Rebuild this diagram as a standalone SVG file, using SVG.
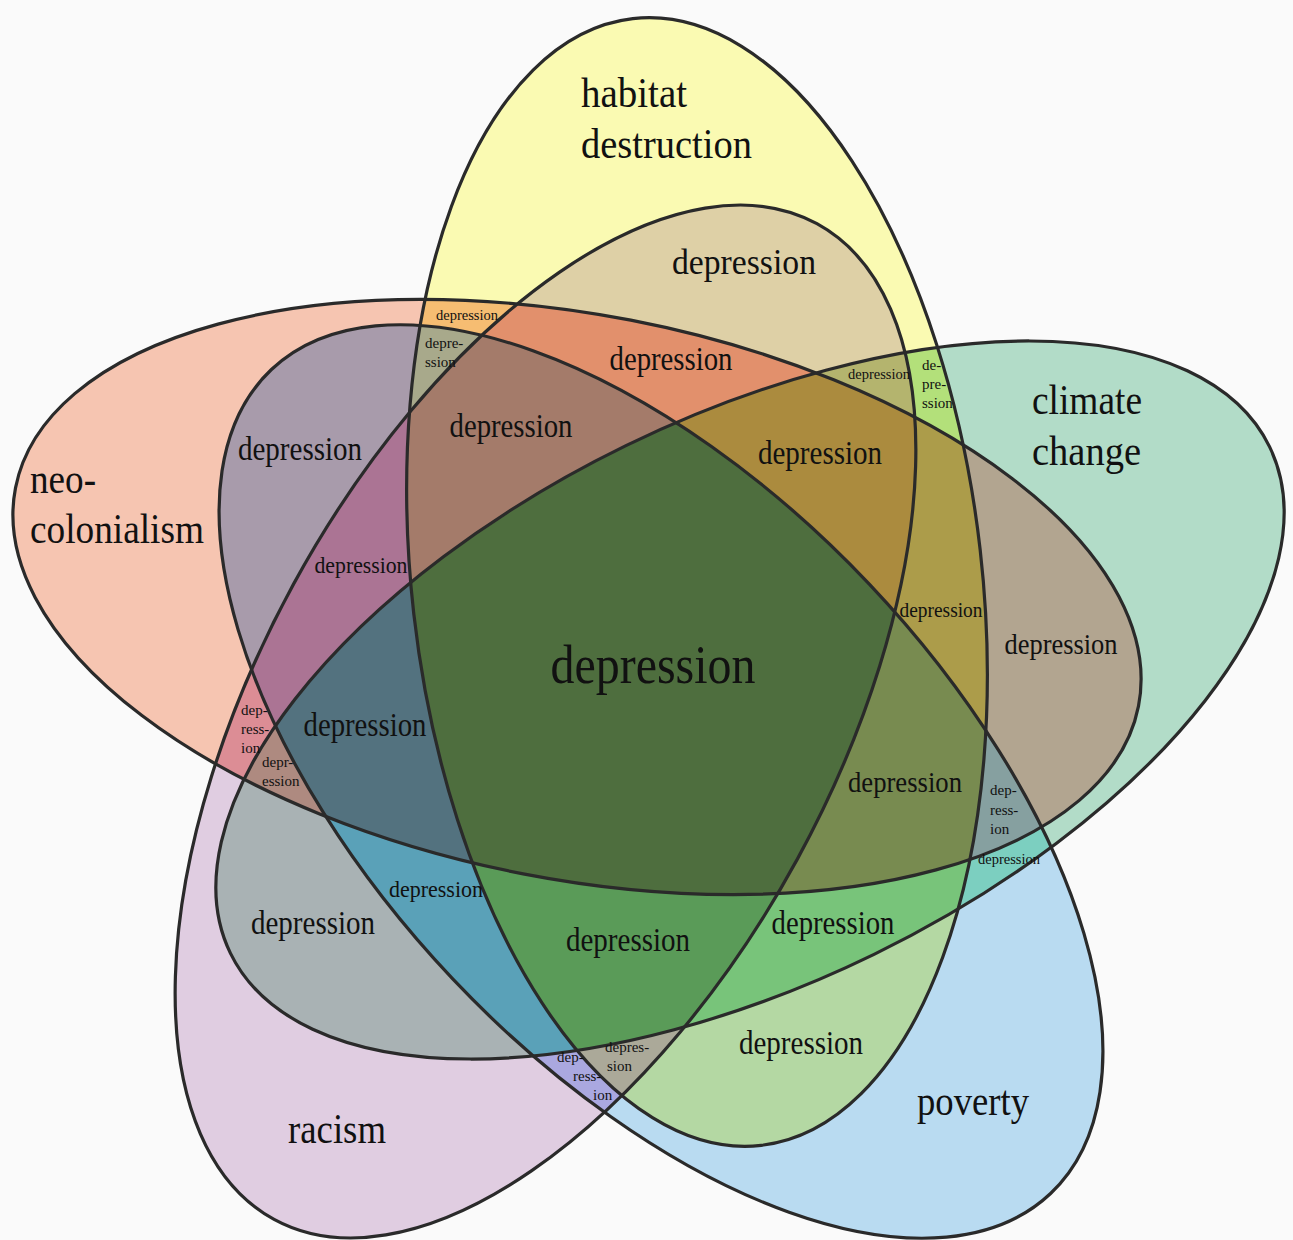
<svg xmlns="http://www.w3.org/2000/svg" xmlns:xlink="http://www.w3.org/1999/xlink" width="1293" height="1240" viewBox="0 0 1293 1240">
<style>
.lbl{font-family:"Liberation Serif","Times New Roman",serif;fill:#111}
.big{font-size:43px}
.mid{font-size:33px}
.sm{font-size:15px}
.edge{fill:none;stroke:#2a2a2a;stroke-width:3.2}
</style>
<defs>
<ellipse id="eN" cx="577" cy="597" rx="572" ry="282" transform="rotate(11 577 597)"/>
<ellipse id="eH" cx="697" cy="582" rx="285" ry="567" transform="rotate(-6.5 697 582)"/>
<ellipse id="eC" cx="750" cy="700" rx="578" ry="283" transform="rotate(-26 750 700)"/>
<ellipse id="eP" cx="661" cy="781.5" rx="567" ry="287" transform="rotate(46.6 661 781.5)"/>
<ellipse id="eR" cx="545.5" cy="721.5" rx="567" ry="287" transform="rotate(-61.4 545.5 721.5)"/>
<clipPath id="cN"><use href="#eN"/></clipPath>
<clipPath id="cH"><use href="#eH"/></clipPath>
<clipPath id="cC"><use href="#eC"/></clipPath>
<clipPath id="cP"><use href="#eP"/></clipPath>
<clipPath id="cR"><use href="#eR"/></clipPath>
</defs>
<rect width="1293" height="1240" fill="#fafafa"/>
<g id="regions">
<use href="#eN" fill="#f6c5b1"/>
<use href="#eH" fill="#fafab2"/>
<use href="#eC" fill="#b2dcc8"/>
<use href="#eP" fill="#b9dbf1"/>
<use href="#eR" fill="#e0cde1"/>
<g clip-path="url(#cH)"><use href="#eN" fill="#f6bd72"/></g>
<g clip-path="url(#cC)"><use href="#eN" fill="#b2a590"/></g>
<g clip-path="url(#cP)"><use href="#eN" fill="#a89bab"/></g>
<g clip-path="url(#cR)"><use href="#eN" fill="#dc8d95"/></g>
<g clip-path="url(#cC)"><use href="#eH" fill="#b3e07a"/></g>
<g clip-path="url(#cP)"><use href="#eH" fill="#b4d8a3"/></g>
<g clip-path="url(#cR)"><use href="#eH" fill="#ded0a6"/></g>
<g clip-path="url(#cP)"><use href="#eC" fill="#7ccfc0"/></g>
<g clip-path="url(#cR)"><use href="#eC" fill="#a9b2b4"/></g>
<g clip-path="url(#cR)"><use href="#eP" fill="#aaa8e0"/></g>
<g clip-path="url(#cH)"><g clip-path="url(#cC)"><use href="#eN" fill="#ac9c4a"/></g></g>
<g clip-path="url(#cH)"><g clip-path="url(#cP)"><use href="#eN" fill="#a8a98b"/></g></g>
<g clip-path="url(#cH)"><g clip-path="url(#cR)"><use href="#eN" fill="#e2906c"/></g></g>
<g clip-path="url(#cC)"><g clip-path="url(#cP)"><use href="#eN" fill="#86a0a0"/></g></g>
<g clip-path="url(#cC)"><g clip-path="url(#cR)"><use href="#eN" fill="#ae8a80"/></g></g>
<g clip-path="url(#cP)"><g clip-path="url(#cR)"><use href="#eN" fill="#ab7494"/></g></g>
<g clip-path="url(#cC)"><g clip-path="url(#cP)"><use href="#eH" fill="#78c47a"/></g></g>
<g clip-path="url(#cC)"><g clip-path="url(#cR)"><use href="#eH" fill="#b4b46e"/></g></g>
<g clip-path="url(#cP)"><g clip-path="url(#cR)"><use href="#eH" fill="#aba999"/></g></g>
<g clip-path="url(#cP)"><g clip-path="url(#cR)"><use href="#eC" fill="#5aa1b8"/></g></g>
<g clip-path="url(#cH)"><g clip-path="url(#cC)"><g clip-path="url(#cP)"><use href="#eN" fill="#788b50"/></g></g></g>
<g clip-path="url(#cH)"><g clip-path="url(#cC)"><g clip-path="url(#cR)"><use href="#eN" fill="#ab8b3e"/></g></g></g>
<g clip-path="url(#cH)"><g clip-path="url(#cP)"><g clip-path="url(#cR)"><use href="#eN" fill="#a47b6a"/></g></g></g>
<g clip-path="url(#cC)"><g clip-path="url(#cP)"><g clip-path="url(#cR)"><use href="#eN" fill="#53727f"/></g></g></g>
<g clip-path="url(#cC)"><g clip-path="url(#cP)"><g clip-path="url(#cR)"><use href="#eH" fill="#5a9b58"/></g></g></g>
<g clip-path="url(#cH)"><g clip-path="url(#cC)"><g clip-path="url(#cP)"><g clip-path="url(#cR)"><use href="#eN" fill="#4e6e3e"/></g></g></g></g>
</g>
<g id="set-neo-colonialism">
<use href="#eN" class="edge"/>
<text class="lbl big" x="30" y="493" textLength="66" lengthAdjust="spacingAndGlyphs">neo-</text>
<text class="lbl big" x="30" y="543" textLength="174" lengthAdjust="spacingAndGlyphs">colonialism</text>
</g>
<g id="set-habitat-destruction">
<use href="#eH" class="edge"/>
<text class="lbl big" x="581" y="107" textLength="106" lengthAdjust="spacingAndGlyphs">habitat</text>
<text class="lbl big" x="581" y="158" textLength="171" lengthAdjust="spacingAndGlyphs">destruction</text>
</g>
<g id="set-climate-change">
<use href="#eC" class="edge"/>
<text class="lbl big" x="1032" y="414" textLength="110" lengthAdjust="spacingAndGlyphs">climate</text>
<text class="lbl big" x="1032" y="465" textLength="109" lengthAdjust="spacingAndGlyphs">change</text>
</g>
<g id="set-poverty">
<use href="#eP" class="edge"/>
<text class="lbl big" x="917" y="1115" textLength="112" lengthAdjust="spacingAndGlyphs">poverty</text>
</g>
<g id="set-racism">
<use href="#eR" class="edge"/>
<text class="lbl big" x="288" y="1143" textLength="98" lengthAdjust="spacingAndGlyphs">racism</text>
</g>
<g id="region-labels" text-anchor="middle">
<text class="lbl" x="653" y="683" font-size="55" textLength="205" lengthAdjust="spacingAndGlyphs">depression</text>
<text class="lbl" x="744" y="274" font-size="36" textLength="144" lengthAdjust="spacingAndGlyphs">depression</text>
<text class="lbl mid" x="671" y="370" textLength="123" lengthAdjust="spacingAndGlyphs">depression</text>
<text class="lbl mid" x="300" y="460" textLength="124" lengthAdjust="spacingAndGlyphs">depression</text>
<text class="lbl mid" x="511" y="437" textLength="123" lengthAdjust="spacingAndGlyphs">depression</text>
<text class="lbl mid" x="820" y="464" textLength="124" lengthAdjust="spacingAndGlyphs">depression</text>
<text class="lbl" x="1061" y="654" font-size="30" textLength="113" lengthAdjust="spacingAndGlyphs">depression</text>
<text class="lbl mid" x="365" y="736" textLength="123" lengthAdjust="spacingAndGlyphs">depression</text>
<text class="lbl" x="905" y="792" font-size="30" textLength="114" lengthAdjust="spacingAndGlyphs">depression</text>
<text class="lbl mid" x="313" y="934" textLength="124" lengthAdjust="spacingAndGlyphs">depression</text>
<text class="lbl mid" x="628" y="951" textLength="124" lengthAdjust="spacingAndGlyphs">depression</text>
<text class="lbl mid" x="833" y="934" textLength="123" lengthAdjust="spacingAndGlyphs">depression</text>
<text class="lbl mid" x="801" y="1054" textLength="124" lengthAdjust="spacingAndGlyphs">depression</text>
<text class="lbl" x="361" y="573" font-size="24" textLength="93" lengthAdjust="spacingAndGlyphs">depression</text>
<text class="lbl" x="436" y="897" font-size="24" textLength="94" lengthAdjust="spacingAndGlyphs">depression</text>
<text class="lbl" x="941" y="617" font-size="22" textLength="83" lengthAdjust="spacingAndGlyphs">depression</text>
<text class="lbl sm" x="467" y="320" textLength="62" lengthAdjust="spacingAndGlyphs">depression</text>
<text class="lbl sm" x="879" y="379" textLength="62" lengthAdjust="spacingAndGlyphs">depression</text>
<text class="lbl sm" x="1009" y="864" textLength="62" lengthAdjust="spacingAndGlyphs">depression</text>
</g>
<g id="region-labels-stacked">
<text class="lbl sm" x="425" y="348">depre-</text>
<text class="lbl sm" x="425" y="367">ssion</text>
<text class="lbl sm" x="922" y="370">de-</text>
<text class="lbl sm" x="922" y="389">pre-</text>
<text class="lbl sm" x="922" y="408">ssion</text>
<text class="lbl sm" x="241" y="715">dep-</text>
<text class="lbl sm" x="241" y="734">ress-</text>
<text class="lbl sm" x="241" y="753">ion</text>
<text class="lbl sm" x="262" y="767">depr-</text>
<text class="lbl sm" x="262" y="786">ession</text>
<text class="lbl sm" x="990" y="795">dep-</text>
<text class="lbl sm" x="990" y="815">ress-</text>
<text class="lbl sm" x="990" y="834">ion</text>
<text class="lbl sm" x="557" y="1062">dep-</text>
<text class="lbl sm" x="573" y="1081">ress-</text>
<text class="lbl sm" x="593" y="1100">ion</text>
<text class="lbl sm" x="605" y="1052">depres-</text>
<text class="lbl sm" x="607" y="1071">sion</text>
</g>
</svg>
